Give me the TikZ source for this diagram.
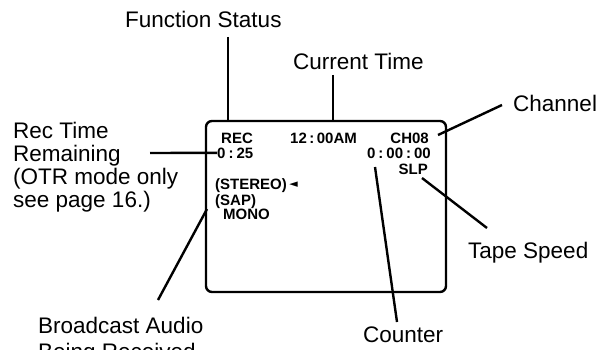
\documentclass[tikz,border=0pt]{standalone}
\usepackage{fontspec}
\setmainfont{Liberation Sans}
\newfontfamily\symfont{DejaVu Sans}
\begin{document}
\begin{tikzpicture}[x=1pt,y=-1pt,
  lbl/.style={inner sep=0pt,anchor=base west,font=\fontsize{22.5}{22.7}\selectfont,align=left},
  osd/.style={inner sep=0pt,font=\fontsize{15}{15}\selectfont\bfseries},
  lead/.style={line width=2.4pt},
  screen/.style={draw,line width=2.4pt,rounded corners=6pt,minimum width=240pt,minimum height=171pt,inner sep=0pt}]
\useasboundingbox[fill=white] (0,0) rectangle (602,350);
\clip (0,0) rectangle (602,350);
% screen
\node[screen] (scr) at (326,206.5) {};
% outer labels
\node[lbl] (fs) at (125,28) {Function Status};
\node[lbl] (ct) at (293,70) {Current Time};
\node[lbl] (ch) at (513,112) {Channel};
\node[lbl] (rt) at (13,207) {Rec Time\\Remaining\\(OTR mode only\\see page 16.)};
\node[lbl] (ts) at (468,258) {Tape Speed};
\node[lbl,font=\fontsize{22.5}{26}\selectfont] (ba) at (38,359) {Broadcast Audio\\Being Received};
\node[lbl] (co) at (363,342) {Counter};
% on-screen texts
\node[osd,anchor=base west] (rec) at (221,143) {REC};
\node[osd,anchor=base west] (tm) at (290,143) {12\hspace{2.5pt}:\hspace{2.5pt}00AM};
\node[osd,anchor=base east] (ch08) at (429,143) {CH08};
\node[osd,anchor=base west] (rem) at (217,158) {0\hspace{3pt}:\hspace{3pt}25};
\node[osd,anchor=base east] (cnt) at (431,158) {0\hspace{3pt}:\hspace{3pt}00\hspace{3pt}:\hspace{3pt}00};
\node[osd,anchor=base east] (slp) at (428,174) {SLP};
\node[osd,anchor=base west] (st) at (215,189) {(STEREO)};
\node[inner sep=0pt,anchor=west,xshift=2pt,font=\symfont\fontsize{11}{11}\selectfont] (tri) at (st.east) {◄};
\node[osd,anchor=base west] (sap) at (215,205) {(SAP)};
\node[osd,anchor=base west] (mono) at (223,219) {MONO};
% connector ends
\coordinate (fs1) at (228,37);
\coordinate (ct1) at (333,75);
\coordinate (ch1) at (502,105);
\coordinate (ch2) at (438,135);
\coordinate (rt1) at (150,153);
\coordinate (ts1) at (487,228);
\coordinate (ts2) at (422,178);
\coordinate (co1) at (397,322);
\coordinate (co2) at (375,167);
\coordinate (ba1) at (158,300);
\coordinate (ba2) at (207,209);
% connectors
\draw[lead] (fs1) -- (fs1 |- scr.north);
\draw[lead] (ct1) -- (ct1 |- scr.north);
\draw[lead] (ch1) -- (ch2);
\draw[lead] (rt1) -- (rem.west);
\draw[lead] (ts1) -- (ts2);
\draw[lead] (co1) -- (co2);
\draw[lead] (ba1) -- (ba2);
\end{tikzpicture}
\end{document}
